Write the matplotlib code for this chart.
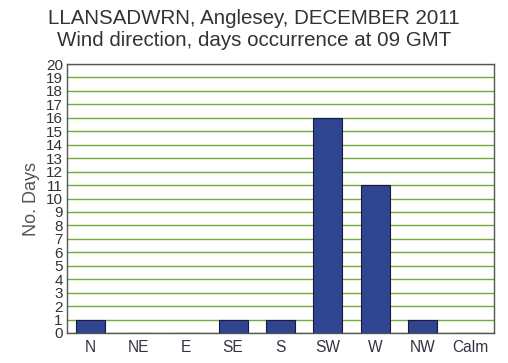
import numpy as np
import matplotlib
matplotlib.use('Agg')
import matplotlib.pyplot as plt

## data
directions = ['N', 'NE', 'E', 'SE', 'S', 'SW', 'W', 'NW', 'Calm']
days = [1, 0, 0, 1, 1, 16, 11, 1, 0]
yticks = list(range(0, 21))

plt.rcParams['font.family'] = ['Liberation Sans', 'DejaVu Sans']

fig = plt.figure(figsize=(5.08, 3.63), dpi=100)
ax = fig.add_axes([67/508, 1 - 333/363, (494-67)/508, (333-64)/363])

x = np.arange(len(directions))
ax.bar(x, days, width=0.61, color='#2f4590', edgecolor='#1a1a40', linewidth=0.8, zorder=3)

ax.set_xlim(-0.5, len(directions) - 0.5)
ax.set_ylim(0, 20)
ax.set_yticks(yticks)
ax.set_yticklabels([str(v) for v in yticks], family=['Liberation Sans Narrow', 'Liberation Sans'],
                   fontsize=11, color='#333333')
ax.set_xticks(x)
ax.set_xticklabels(directions, fontsize=11.2, color='#333344')
ax.tick_params(axis='both', length=0, pad=3)
ax.tick_params(axis='x', pad=5)

ax.yaxis.grid(True, color='#72ad3a', linewidth=1.0, zorder=0)
for s in ax.spines.values():
    s.set_color('#555555')
    s.set_linewidth(1.0)

ax.set_ylabel('No. Days', fontsize=13, color='#555555', labelpad=4)

fig.text(0.5, 1 - 18/363, 'LLANSADWRN, Anglesey, DECEMBER 2011', ha='center', va='center',
         fontsize=14.8, color='#333333')
fig.text(0.5, 1 - 41/363, 'Wind direction, days occurrence at 09 GMT', ha='center', va='center',
         fontsize=14.8, color='#333333')

fig.savefig('out.png', dpi=100)
